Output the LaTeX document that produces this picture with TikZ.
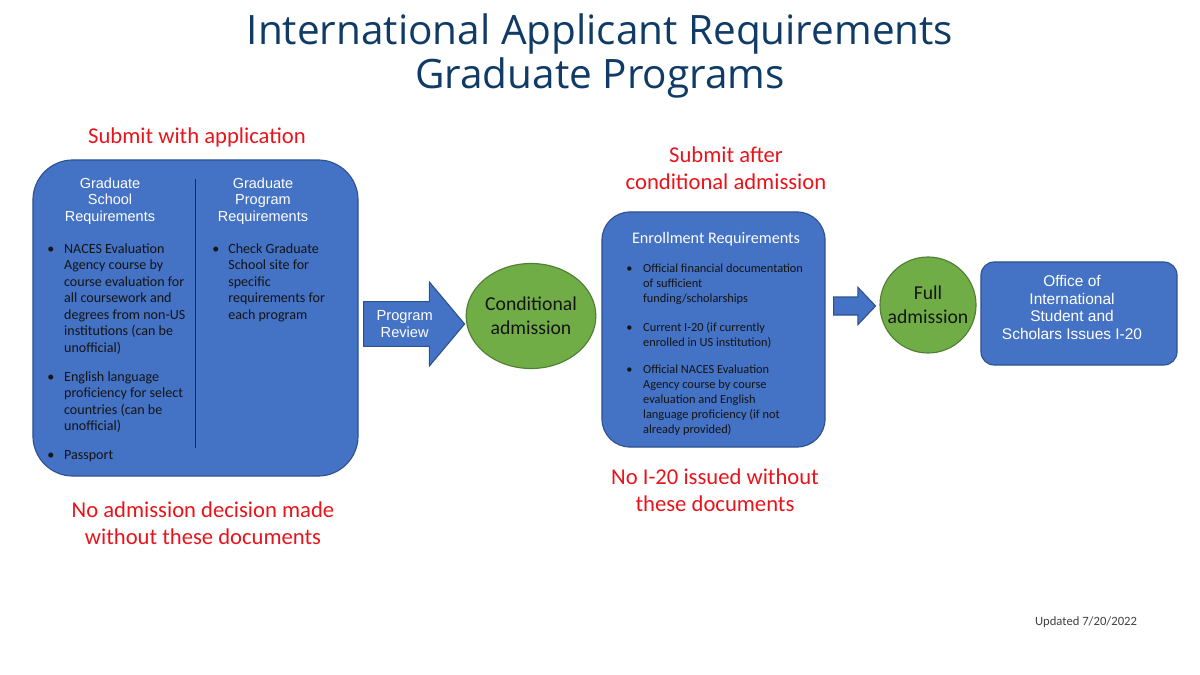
\documentclass[tikz,border=0pt]{standalone}
\usepackage{fontspec}
\setmainfont{Carlito}
\newfontfamily\arialfont{Liberation Sans}
\newfontfamily\titlefont{Open Sans}
\usepackage{xcolor}
\definecolor{navy}{HTML}{0F3B66}
\definecolor{boxblue}{HTML}{4472C4}
\definecolor{boxedge}{HTML}{2F528F}
\definecolor{okgreen}{HTML}{70AD47}
\definecolor{greenedge}{HTML}{507E32}
\definecolor{alertred}{HTML}{E8141B}
\definecolor{ink}{HTML}{141414}
\definecolor{divline}{HTML}{1C2A45}
\usepackage{tikz}
\usetikzlibrary{shapes.geometric, shapes.arrows, positioning, calc}

\begin{document}
\begin{tikzpicture}[
    x=0.025cm, y=-0.025cm,
    reqbox/.style={draw=boxedge, fill=boxblue, line width=0.8pt},
    stage/.style={draw=greenedge, fill=okgreen, line width=0.8pt, align=center, text=ink, inner sep=0pt, font=\fontsize{14}{17.4}\selectfont},
    flow/.style={single arrow, draw=boxedge, fill=boxblue, line width=0.8pt, single arrow head indent=0pt, anchor=tail, inner xsep=0pt},
    note/.style={text=alertred, align=center, font=\fontsize{16.1}{19.2}\selectfont},
    head/.style={text=white, align=center, inner sep=0pt, font=\arialfont\fontsize{10.3}{11.7}\selectfont},
    items/.style={text=ink, anchor=base west, inner sep=0pt, font=\fontsize{10}{11.7}\selectfont},
]
\useasboundingbox (0,0) rectangle (1200,675);

% title
\node[text=navy, align=center, font=\titlefont\fontsize{28.8}{31.3}\selectfont] (title) at (600,56) {International Applicant Requirements\\Graduate Programs};

% application box
\node[reqbox, rounded corners=1cm, minimum width=8.125cm, minimum height=7.9cm] (apply) at (195.5,318) {};
\draw[divline, line width=1pt] ($(apply.north)+(0,20)$) -- ($(apply.south)+(0,-29)$);
\node[head] (schoolhead) at (110,201) {Graduate\\School\\Requirements};
\node[head] (programhead) at (263,201) {Graduate\\Program\\Requirements};
\node[items] (schoolitems) at (47,253.5) {\begin{tabular}[t]{@{}p{12pt}@{}l@{}}
\textbullet & NACES Evaluation\\
 & Agency course by\\
 & course evaluation for\\
 & all coursework and\\
 & degrees from non-US\\
 & institutions (can be\\
 & unofficial)\\[9pt]
\textbullet & English language\\
 & proficiency for select\\
 & countries (can be\\
 & unofficial)\\[9pt]
\textbullet & Passport
\end{tabular}};
\node[items] (programitems) at (212,253.5) {\begin{tabular}[t]{@{}p{11.4pt}@{}l@{}}
\textbullet & Check Graduate\\
 & School site for\\
 & specific\\
 & requirements for\\
 & each program
\end{tabular}};
\node[note] (submitfirst) at (197,137) {Submit with application};
\node[note] (nodecision) at (203,523) {No admission decision made\\without these documents};

% program review
\node[flow, minimum height=2.525cm, inner ysep=6.1pt, single arrow head extend=0.49cm, single arrow tip angle=100, text=white, align=center, font=\arialfont\fontsize{10.4}{11.5}\selectfont] (review) at (363,324) {Program\\Review};
\node[stage, ellipse, minimum width=3.175cm, minimum height=2.625cm] (cond) at (531,316) {Conditional\\admission};

% enrollment box
\node[reqbox, rounded corners=0.7cm, minimum width=5.575cm, minimum height=5.875cm] (enroll) at (713.5,329.5) {};
\node[text=white, inner sep=0pt, font=\fontsize{11.5}{13}\selectfont] (enrollhead) at (716,239) {Enrollment Requirements};
\node[items, font=\fontsize{8.8}{10.7}\selectfont] (enrollitems) at (626,272) {\begin{tabular}[t]{@{}p{12pt}@{}l@{}}
\textbullet & Official financial documentation\\
 & of sufficient\\
 & funding/scholarships\\[10pt]
\textbullet & Current I-20 (if currently\\
 & enrolled in US institution)\\[8.5pt]
\textbullet & Official NACES Evaluation\\
 & Agency course by course\\
 & evaluation and English\\
 & language proficiency (if not\\
 & already provided)
\end{tabular}};
\node[note] (submitafter) at (726,168) {Submit after\\conditional admission};
\node[note] (noissue) at (715,490) {No I-20 issued without\\these documents};

% full admission and office
\node[flow, minimum height=1.05cm, inner ysep=6pt, single arrow head extend=0.24cm, single arrow tip angle=93] (next) at (833,306) {};
\node[stage, circle, minimum size=2.4cm] (full) at (928,305) {Full\\admission};
\node[reqbox, rounded corners=0.33cm, minimum width=4.9cm, minimum height=2.575cm] (oiss) at (1079,313.5) {};
\node[head, font=\arialfont\fontsize{11}{12.6}\selectfont] (oisstext) at (1072,307.5) {Office of\\International\\Student and\\Scholars Issues I-20};

\node[text=black!75, inner sep=0pt, font=\fontsize{9}{11}\selectfont] (updated) at (1086,622) {Updated 7/20/2022};
\end{tikzpicture}
\end{document}
